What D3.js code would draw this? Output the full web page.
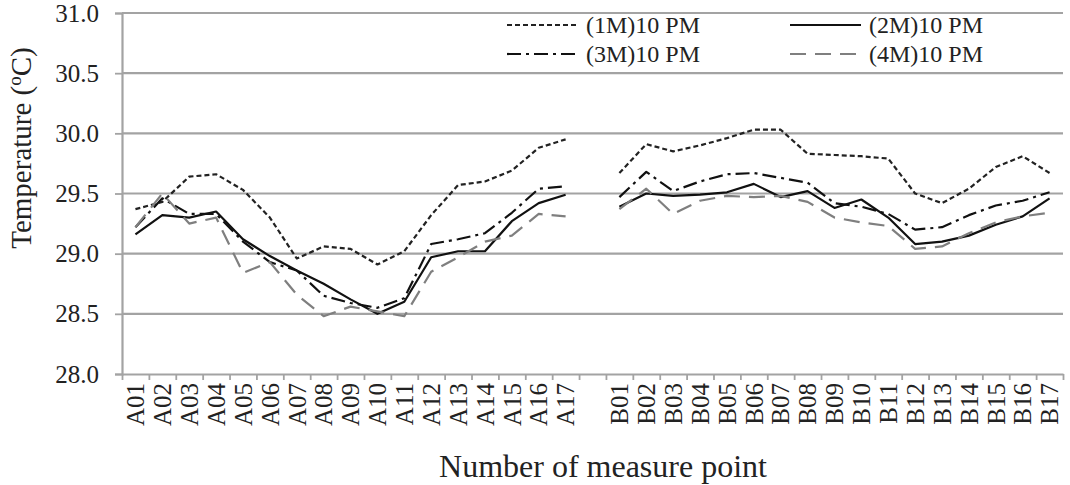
<!DOCTYPE html>
<html>
<head>
<meta charset="utf-8">
<script src="https://cdn.jsdelivr.net/npm/d3@7"></script>
<style>
  body { margin: 0; background: #fff; }
  svg text { font-family: "Liberation Serif", "Times New Roman", serif; fill: #222; }
</style>
</head>
<body>
<svg id="chart" width="1070" height="485"></svg>
<script>
// measure points (A and B rows, with an empty slot between them)
const pointsA = ["A01","A02","A03","A04","A05","A06","A07","A08","A09","A10","A11","A12","A13","A14","A15","A16","A17"];
const pointsB = ["B01","B02","B03","B04","B05","B06","B07","B08","B09","B10","B11","B12","B13","B14","B15","B16","B17"];
const yTicks = [28.0, 28.5, 29.0, 29.5, 30.0, 30.5, 31.0];

// temperatures
const m1A = [29.37,29.43,29.64,29.66,29.53,29.30,28.96,29.06,29.04,28.91,29.02,29.32,29.57,29.60,29.69,29.88,29.95];
const m1B = [29.67,29.91,29.85,29.90,29.96,30.03,30.03,29.83,29.82,29.81,29.79,29.50,29.42,29.54,29.72,29.81,29.67];
const m2A = [29.16,29.32,29.30,29.35,29.12,28.98,28.86,28.75,28.62,28.50,28.60,28.97,29.02,29.02,29.27,29.42,29.49];
const m2B = [29.39,29.50,29.48,29.49,29.51,29.58,29.47,29.52,29.38,29.45,29.30,29.08,29.10,29.15,29.24,29.31,29.46];
const m3A = [29.22,29.46,29.33,29.33,29.10,28.93,28.86,28.65,28.59,28.55,28.63,29.08,29.12,29.17,29.34,29.54,29.56];
const m3B = [29.47,29.68,29.52,29.60,29.66,29.67,29.63,29.59,29.42,29.39,29.33,29.20,29.22,29.32,29.40,29.44,29.51];
const m4A = [29.22,29.50,29.25,29.30,28.84,28.93,28.66,28.48,28.56,28.52,28.48,28.85,28.97,29.10,29.15,29.33,29.31];
const m4B = [29.37,29.54,29.33,29.44,29.48,29.47,29.48,29.43,29.30,29.26,29.23,29.04,29.06,29.17,29.26,29.31,29.34];

const seriesNames = ["(1M)10 PM", "(2M)10 PM", "(3M)10 PM", "(4M)10 PM"];

const series = [
  { name: seriesNames[0], a: m1A, b: m1B, color: "#222", dash: "5,3", width: 2.2 },
  { name: seriesNames[1], a: m2A, b: m2B, color: "#111", dash: null, width: 2.2 },
  { name: seriesNames[2], a: m3A, b: m3B, color: "#111", dash: "14,5,3,5", width: 2.2 },
  { name: seriesNames[3], a: m4A, b: m4B, color: "#7f7f7f", dash: "16,9", width: 2.2 }
];

const margin = { top: 13, left: 122 };
const width = 941, height = 361;
const gridColor = "#a3a3a3";

const svg = d3.select("#chart");
const g = svg.append("g").attr("transform", `translate(${margin.left},${margin.top})`);

const categories = pointsA.concat(["gap"], pointsB);
const x = d3.scaleBand().domain(categories).range([0, width]).padding(0);
const y = d3.scaleLinear().domain([28, 31]).range([height, 0]);

// gridlines
g.append("g").selectAll("line").data(yTicks.slice(1)).enter().append("line")
  .attr("x1", 0).attr("x2", width)
  .attr("y1", d => y(d)).attr("y2", d => y(d))
  .attr("stroke", gridColor).attr("stroke-width", 2.2);

// y axis
const yAxis = g.append("g")
  .call(d3.axisLeft(y).tickValues(yTicks).tickFormat(d3.format(".1f")).tickSize(7).tickPadding(16));
yAxis.select(".domain").attr("stroke", gridColor).attr("stroke-width", 2.2);
yAxis.selectAll(".tick line").attr("stroke", gridColor).attr("stroke-width", 1.8);
yAxis.selectAll("text").attr("font-size", "25px").attr("fill", "#222");

// x axis: tick marks between categories
const xEdges = d3.scaleLinear().domain([0, categories.length]).range([0, width]);
const xAxis = g.append("g").attr("transform", `translate(0,${height})`)
  .call(d3.axisBottom(xEdges).ticks(categories.length).tickFormat("").tickSize(6).tickSizeOuter(0));
xAxis.select(".domain").attr("stroke", gridColor).attr("stroke-width", 2.2);
xAxis.selectAll(".tick line").attr("stroke", gridColor).attr("stroke-width", 1.8);

// category labels, rotated
const xLabels = g.append("g").attr("transform", `translate(0,${height})`)
  .call(d3.axisBottom(x).tickSize(0).tickFormat(d => d === "gap" ? "" : d));
xLabels.select(".domain").remove();
xLabels.selectAll("text")
  .attr("font-size", "25px").attr("fill", "#222")
  .attr("transform", "rotate(-90)")
  .attr("text-anchor", "end")
  .attr("x", -9).attr("y", 0).attr("dy", "0.35em");

// lines
const line = d3.line()
  .x(d => x(d.p) + x.bandwidth() / 2)
  .y(d => y(d.v));

series.forEach(s => {
  [[pointsA, s.a], [pointsB, s.b]].forEach(([pts, vals]) => {
    g.append("path")
      .datum(pts.map((p, i) => ({ p: p, v: vals[i] })))
      .attr("d", line)
      .attr("fill", "none")
      .attr("stroke", s.color)
      .attr("stroke-width", s.width)
      .attr("stroke-dasharray", s.dash)
      .attr("stroke-linejoin", "round");
  });
});

// legend
const legendPos = [[507, 25], [790, 25], [507, 54], [790, 54]];
series.forEach((s, i) => {
  const [lx, ly] = legendPos[i];
  svg.append("line")
    .attr("x1", lx).attr("x2", lx + 71).attr("y1", ly).attr("y2", ly)
    .attr("stroke", s.color).attr("stroke-width", s.width)
    .attr("stroke-dasharray", s.dash);
  svg.append("text")
    .attr("x", lx + 79).attr("y", ly).attr("dy", "0.35em")
    .attr("font-size", "24px")
    .text(s.name);
});

// axis titles
const yTitle = svg.append("text")
  .attr("transform", "translate(31,148) rotate(-90)")
  .attr("text-anchor", "middle")
  .attr("font-size", "29px");
yTitle.append("tspan").text("Temperature (");
yTitle.append("tspan").attr("font-size", "19px").attr("dy", "-10").text("o");
yTitle.append("tspan").attr("dy", "10").text("C)");

svg.append("text")
  .attr("x", 603).attr("y", 477)
  .attr("text-anchor", "middle")
  .attr("font-size", "32px")
  .text("Number of measure point");
</script>
</body>
</html>
